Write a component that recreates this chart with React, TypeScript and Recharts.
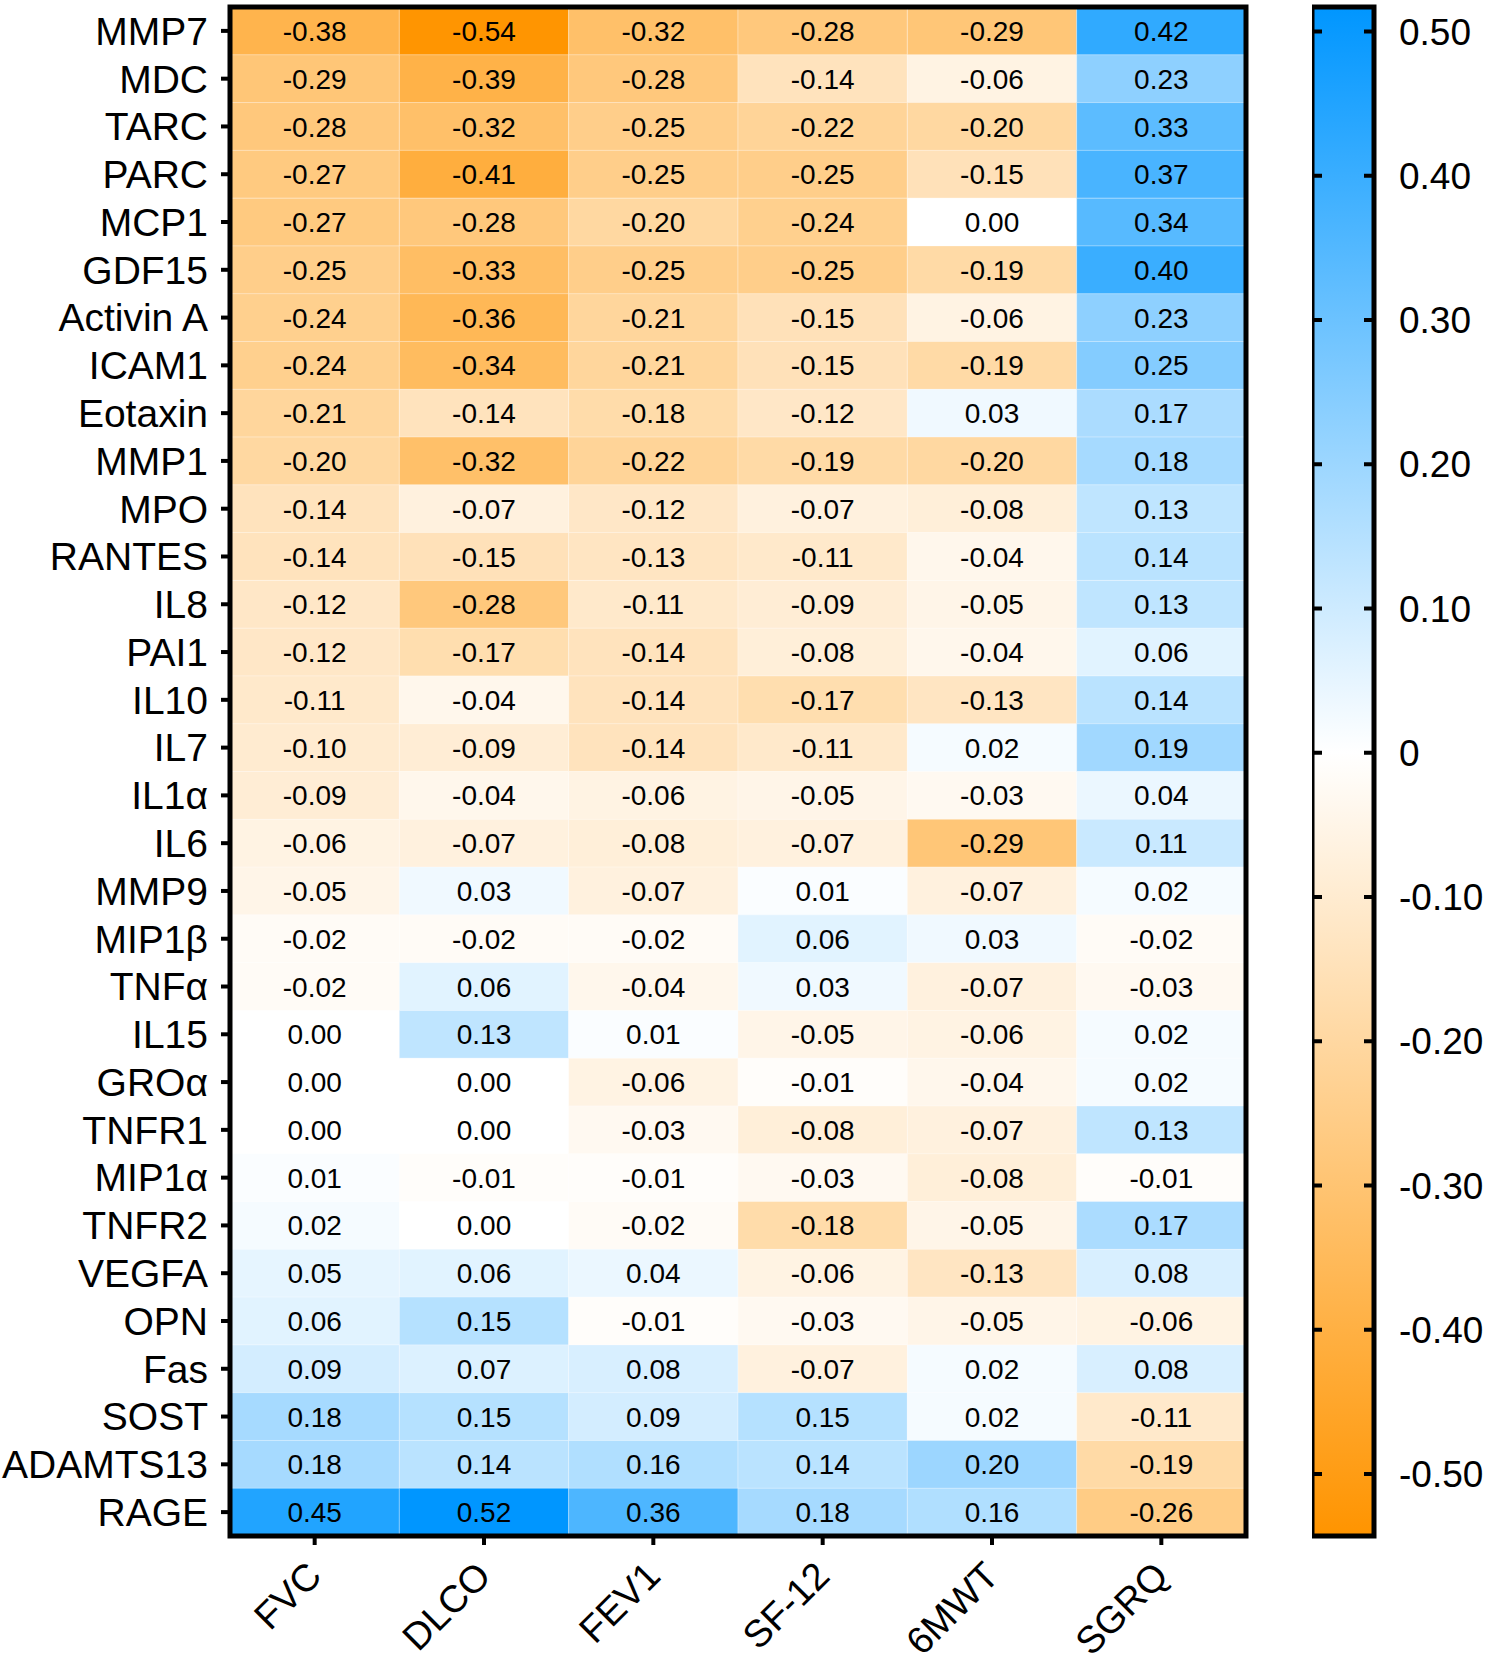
import { Bar, BarChart, Cell, LabelList, ReferenceArea, ReferenceLine, XAxis, YAxis } from "recharts";

const markers = [
  "MMP7", "MDC", "TARC", "PARC", "MCP1", "GDF15", "Activin A", "ICAM1",
  "Eotaxin", "MMP1", "MPO", "RANTES", "IL8", "PAI1", "IL10", "IL7",
  "IL1α", "IL6", "MMP9", "MIP1β", "TNFα", "IL15", "GROα", "TNFR1",
  "MIP1α", "TNFR2", "VEGFA", "OPN", "Fas", "SOST", "ADAMTS13", "RAGE",
];

const measures = ["FVC", "DLCO", "FEV1", "SF-12", "6MWT", "SGRQ"];

// correlation per measure, same order as markers
const fvc = [
  -0.38, -0.29, -0.28, -0.27, -0.27, -0.25, -0.24, -0.24, -0.21, -0.2, -0.14, -0.14, -0.12, -0.12, -0.11, -0.1,
  -0.09, -0.06, -0.05, -0.02, -0.02, 0.0, 0.0, 0.0, 0.01, 0.02, 0.05, 0.06, 0.09, 0.18, 0.18, 0.45,
];
const dlco = [
  -0.54, -0.39, -0.32, -0.41, -0.28, -0.33, -0.36, -0.34, -0.14, -0.32, -0.07, -0.15, -0.28, -0.17, -0.04, -0.09,
  -0.04, -0.07, 0.03, -0.02, 0.06, 0.13, 0.0, 0.0, -0.01, 0.0, 0.06, 0.15, 0.07, 0.15, 0.14, 0.52,
];
const fev1 = [
  -0.32, -0.28, -0.25, -0.25, -0.2, -0.25, -0.21, -0.21, -0.18, -0.22, -0.12, -0.13, -0.11, -0.14, -0.14, -0.14,
  -0.06, -0.08, -0.07, -0.02, -0.04, 0.01, -0.06, -0.03, -0.01, -0.02, 0.04, -0.01, 0.08, 0.09, 0.16, 0.36,
];
const sf12 = [
  -0.28, -0.14, -0.22, -0.25, -0.24, -0.25, -0.15, -0.15, -0.12, -0.19, -0.07, -0.11, -0.09, -0.08, -0.17, -0.11,
  -0.05, -0.07, 0.01, 0.06, 0.03, -0.05, -0.01, -0.08, -0.03, -0.18, -0.06, -0.03, -0.07, 0.15, 0.14, 0.18,
];
const sixMwt = [
  -0.29, -0.06, -0.2, -0.15, 0.0, -0.19, -0.06, -0.19, 0.03, -0.2, -0.08, -0.04, -0.05, -0.04, -0.13, 0.02,
  -0.03, -0.29, -0.07, 0.03, -0.07, -0.06, -0.04, -0.07, -0.08, -0.05, -0.13, -0.05, 0.02, 0.02, 0.2, 0.16,
];
const sgrq = [
  0.42, 0.23, 0.33, 0.37, 0.34, 0.4, 0.23, 0.25, 0.17, 0.18, 0.13, 0.14, 0.13, 0.06, 0.14, 0.19,
  0.04, 0.11, 0.02, -0.02, -0.03, 0.02, 0.02, 0.13, -0.01, 0.17, 0.08, -0.06, 0.08, -0.11, -0.19, -0.26,
];

const columns = [fvc, dlco, fev1, sf12, sixMwt, sgrq];
const scaleMin = -0.543;
const scaleMax = 0.517;
const scaleTicks = [-0.5, -0.4, -0.3, -0.2, -0.1, 0, 0.1, 0.2, 0.3, 0.4, 0.5];

const BLUE = [0, 150, 255];
const ORANGE = [255, 148, 0];

function colorFor(v: number) {
  const end = v >= 0 ? BLUE : ORANGE;
  const t = Math.min(1, v >= 0 ? v / scaleMax : v / scaleMin);
  const c = end.map((e) => Math.round(255 + (e - 255) * t));
  return `rgb(${c[0]},${c[1]},${c[2]})`;
}

// one unit-length stacked segment per measure, value kept alongside for colour + label
const table = markers.map((name, r) => {
  const row: Record<string, string | number> = { name };
  measures.forEach((m, c) => {
    row[m] = 1;
    row[m + "_v"] = columns[c][r];
  });
  return row;
});

const FONT = "'Liberation Sans', Arial, Helvetica, sans-serif";

function MeasureTick({ x, y, payload }: any) {
  const label = measures[Math.floor(payload.value)];
  const ax = x + 9;
  const ay = y + 31;
  return (
    <text
      x={ax}
      y={ay}
      textAnchor="end"
      fontSize={38}
      fill="#000"
      fontFamily={FONT}
      transform={`rotate(-45 ${ax} ${ay})`}
    >
      {label}
    </text>
  );
}

export default function App() {
  return (
    <div
      style={{
        position: "absolute",
        left: 0,
        top: 0,
        width: 1489,
        height: 1664,
        background: "#fff",
        fontFamily: FONT,
      }}
    >
      <div style={{ position: "absolute", left: 0, top: 0 }}>
        <BarChart
          width={1262}
          height={1664}
          data={table}
          layout="vertical"
          barCategoryGap={0}
          margin={{ top: 7, right: 16, bottom: 0, left: 0 }}
        >
          <XAxis
            type="number"
            domain={[0, 6]}
            ticks={[0.5, 1.5, 2.5, 3.5, 4.5, 5.5]}
            height={128}
            axisLine={false}
            tickLine={{ stroke: "#000", strokeWidth: 4 }}
            tickSize={9}
            tick={<MeasureTick />}
            interval={0}
          />
          <YAxis
            type="category"
            dataKey="name"
            width={230}
            axisLine={false}
            tickLine={{ stroke: "#000", strokeWidth: 4 }}
            tickSize={9}
            tickMargin={13}
            interval={0}
            tick={{ fontSize: 39, fill: "#000", fontFamily: FONT }}
          />
          {measures.map((m) => (
            <Bar key={m} dataKey={m} stackId="cells" isAnimationActive={false}>
              {table.map((row, i) => (
                <Cell
                  key={i}
                  fill={colorFor(row[m + "_v"] as number)}
                  stroke="rgba(255,255,255,0.3)"
                  strokeWidth={1}
                />
              ))}
              <LabelList
                dataKey={m + "_v"}
                position="center"
                formatter={(v: any) => Number(v).toFixed(2)}
                style={{ fontSize: 28, fill: "#000", fontFamily: FONT }}
              />
            </Bar>
          ))}
          <ReferenceArea x1={0} x2={6} fill="none" stroke="#000" strokeWidth={5} fillOpacity={0} zIndex={1000} />
        </BarChart>
      </div>
      <div style={{ position: "absolute", left: 1312, top: 0 }}>
        <BarChart
          width={177}
          height={1664}
          data={[{ name: "scale", range: [scaleMin, scaleMax] }]}
          barCategoryGap={0}
          margin={{ top: 7, right: 0, bottom: 128, left: 0 }}
        >
          <defs>
            <linearGradient id="scale-gradient" x1="0" y1="0" x2="0" y2="1">
              <stop offset="0%" stopColor={colorFor(scaleMax)} />
              <stop offset={`${(scaleMax / (scaleMax - scaleMin)) * 100}%`} stopColor="#ffffff" />
              <stop offset="100%" stopColor={colorFor(scaleMin)} />
            </linearGradient>
          </defs>
          <XAxis dataKey="name" hide />
          <YAxis
            type="number"
            orientation="right"
            domain={[scaleMin, scaleMax]}
            ticks={scaleTicks}
            width={115}
            axisLine={false}
            tickLine={false}
            tickSize={0}
            tickMargin={25}
            interval={0}
            tickFormatter={(v: number) => (v === 0 ? "0" : v.toFixed(2))}
            tick={{ fontSize: 37, fill: "#000", fontFamily: FONT, textAnchor: "start" }}
          />
          <Bar
            dataKey="range"
            fill="url(#scale-gradient)"
            stroke="#000"
            strokeWidth={5}
            isAnimationActive={false}
          />
          {scaleTicks.map((t) => (
            <ReferenceLine key={t} y={t} stroke="#000" strokeWidth={4} strokeDasharray="10 42 10" />
          ))}
        </BarChart>
      </div>
    </div>
  );
}
